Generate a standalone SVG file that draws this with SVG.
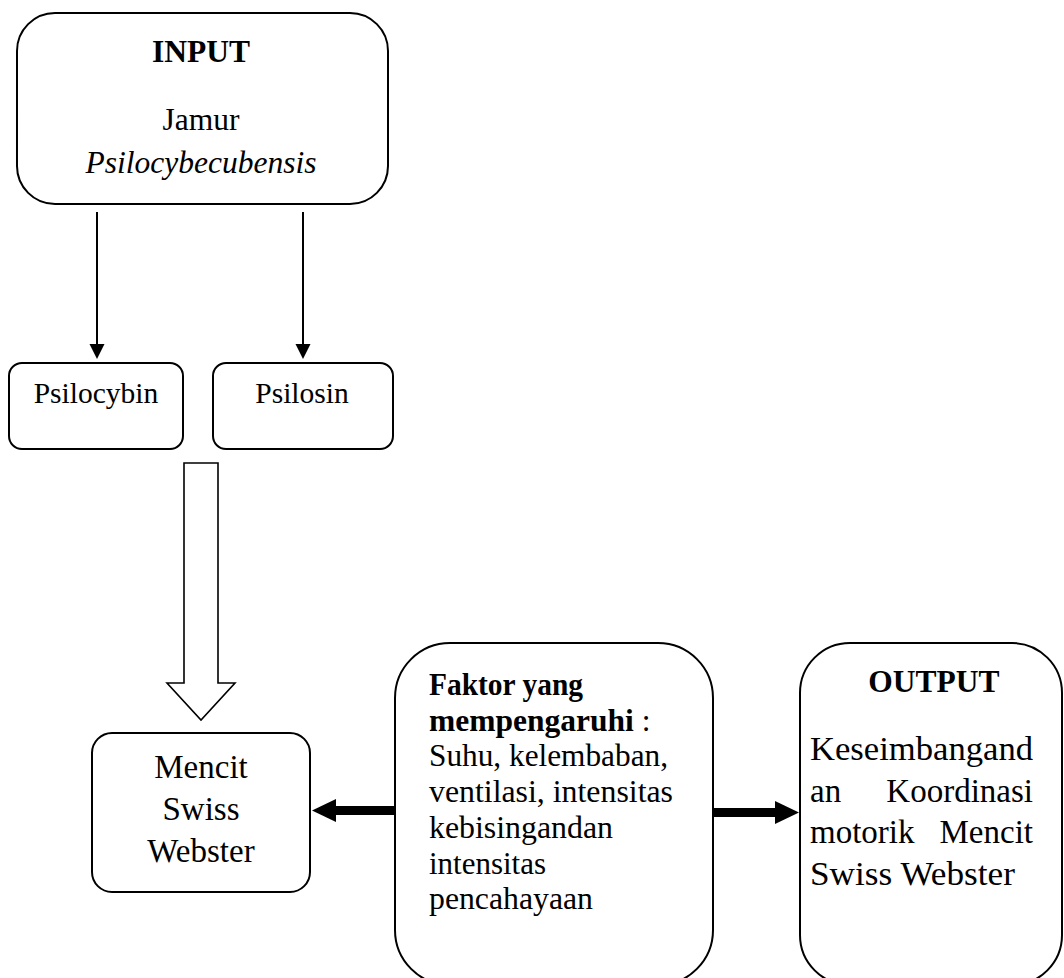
<svg xmlns="http://www.w3.org/2000/svg" width="1064" height="978" viewBox="0 0 1064 978">
<style>
.box{fill:#fff;stroke:#000;stroke-width:2}
.t{font-family:"Liberation Serif","Times New Roman",serif;font-size:31.5px;fill:#000}
.b{font-weight:bold}
.c{text-anchor:middle}
.e{text-anchor:end}
.s{font-size:29.5px}
.m{font-size:33px}
.f{font-size:32.5px}
</style>
<rect width="1064" height="978" fill="#fff"/>
<g id="input">
<rect class="box" x="17" y="13" width="371" height="191" rx="38" ry="38"/>
<text class="t b c" x="201" y="62">INPUT</text>
<text class="t c" x="201" y="130">Jamur</text>
<text class="t c" x="201" y="173" font-style="italic">Psilocybecubensis</text>
</g>
<g id="psilocybin">
<rect class="box" x="9" y="363" width="174" height="86" rx="13" ry="13"/>
<text class="t s c" x="96" y="403">Psilocybin</text>
</g>
<g id="psilosin">
<rect class="box" x="213" y="363" width="180" height="86" rx="13" ry="13"/>
<text class="t s c" x="302" y="403">Psilosin</text>
</g>
<g id="mencit">
<rect class="box" x="92" y="733" width="218" height="159" rx="20" ry="20"/>
<text class="t m c" x="201" y="778">Mencit</text>
<text class="t m c" x="201" y="820">Swiss</text>
<text class="t m c" x="201" y="862">Webster</text>
</g>
<g id="faktor">
<rect class="box" x="395" y="643" width="318" height="342" rx="55" ry="55"/>
<text class="t" x="429" y="695" textLength="154" lengthAdjust="spacingAndGlyphs"><tspan class="b">Faktor yang</tspan></text>
<text class="t" x="429" y="731"><tspan class="b">mempengaruhi</tspan> :</text>
<text class="t f" x="429" y="766" textLength="239" lengthAdjust="spacingAndGlyphs">Suhu, kelembaban,</text>
<text class="t f" x="429" y="802" textLength="244" lengthAdjust="spacingAndGlyphs">ventilasi, intensitas</text>
<text class="t f" x="429" y="838" textLength="184" lengthAdjust="spacingAndGlyphs">kebisingandan</text>
<text class="t f" x="429" y="874" textLength="117" lengthAdjust="spacingAndGlyphs">intensitas</text>
<text class="t f" x="429" y="909" textLength="164" lengthAdjust="spacingAndGlyphs">pencahayaan</text>
</g>
<g id="output">
<rect class="box" x="800" y="643" width="262" height="342" rx="50" ry="50"/>
<text class="t b c" x="934" y="692" font-size="32">OUTPUT</text>
<text class="t m" x="810" y="760" textLength="223" lengthAdjust="spacingAndGlyphs">Keseimbangand</text>
<text class="t m" x="810" y="802">an</text>
<text class="t m e" x="1033" y="802">Koordinasi</text>
<text class="t m" x="810" y="843">motorik</text>
<text class="t m e" x="1033" y="843">Mencit</text>
<text class="t m" x="810" y="885" textLength="205" lengthAdjust="spacingAndGlyphs">Swiss Webster</text>
</g>
<g id="connectors">
<line x1="97" y1="212" x2="97" y2="346" stroke="#000" stroke-width="2"/>
<polygon points="89.5,344 104.5,344 97,359" fill="#000"/>
<line x1="303" y1="212" x2="303" y2="346" stroke="#000" stroke-width="2"/>
<polygon points="295.5,344 310.5,344 303,359" fill="#000"/>
<polygon points="184,463 218,463 218,683 235,683 201,720 167,683 184,683" fill="#fff" stroke="#000" stroke-width="1.6"/>
<rect x="334" y="806" width="60" height="9" fill="#000"/>
<polygon points="336,799 336,822 312,810.5" fill="#000"/>
<rect x="714" y="808" width="62" height="9" fill="#000"/>
<polygon points="775,801 775,824 799,812.5" fill="#000"/>
</g>
</svg>
